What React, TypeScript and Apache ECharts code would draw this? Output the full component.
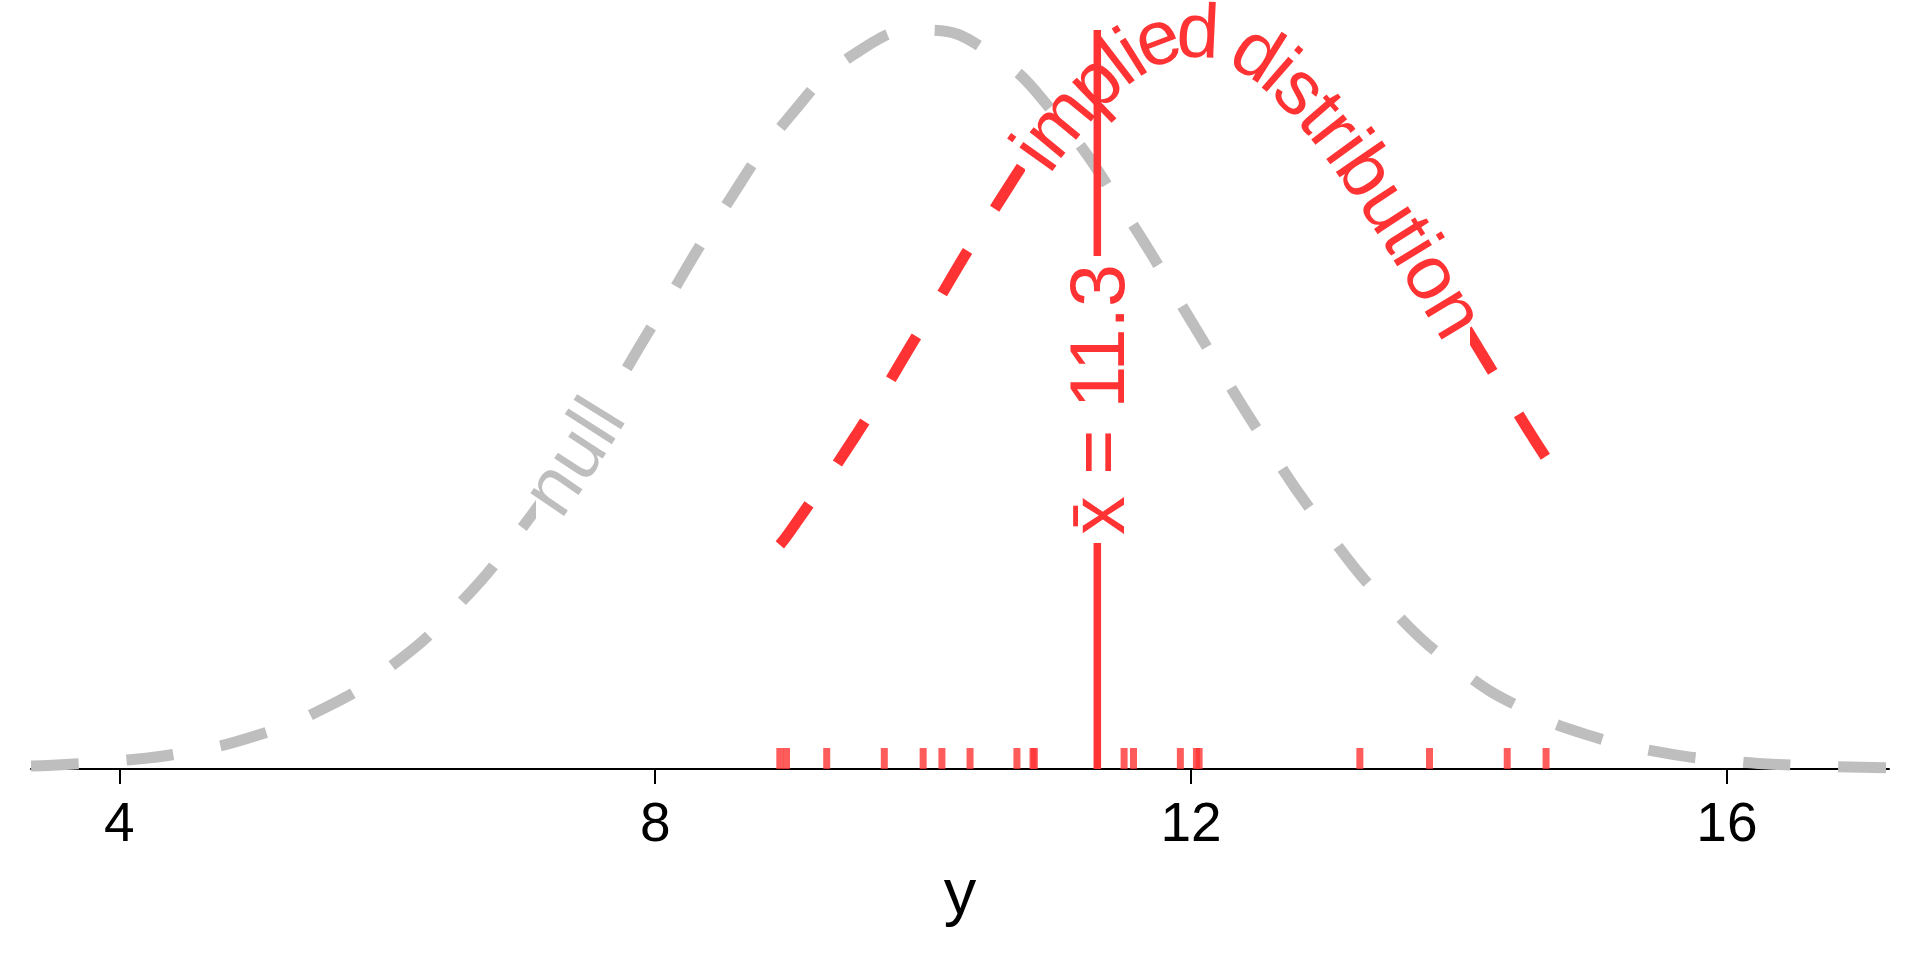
import React, { useEffect, useRef } from "react";
import * as echarts from "echarts";

// ---- data ----
const nullX = [3.34, 3.5, 4, 4.5, 5, 5.5, 6, 6.5, 7, 7.5, 8, 8.5, 9, 9.5, 10, 10.5, 11, 11.5, 12, 12.5, 13, 13.5, 14, 14.5, 15, 15.5, 16, 16.5, 17, 17.21];
const nullDensity = [0.00078, 0.00101, 0.00222, 0.00455, 0.00876, 0.0159, 0.027, 0.0431, 0.0648, 0.0913, 0.121, 0.1506, 0.176, 0.1933, 0.1995, 0.1933, 0.176, 0.1506, 0.121, 0.0913, 0.0648, 0.0431, 0.027, 0.0159, 0.00876, 0.00455, 0.00222, 0.00101, 0.00044, 0.0003];
const impliedX = [8.93, 9, 9.5, 10, 10.5, 11, 11.5, 12, 12.5, 13, 13.5, 14, 14.5, 14.65];
const impliedDensity = [0.0605, 0.0638, 0.0902, 0.1198, 0.1494, 0.1751, 0.1928, 0.1995, 0.1938, 0.1769, 0.1517, 0.1222, 0.0925, 0.084];
const rugValues = [8.93, 8.98, 9.28, 9.71, 10.0, 10.14, 10.35, 10.7, 10.82, 10.83, 11.5, 11.57, 11.92, 12.04, 12.06, 13.26, 13.78, 14.36, 14.65];
const xBar = 11.3;
const peakDensity = 0.1995;
const tickValues = [4, 8, 12, 16];
const xMin = 3.34;
const xMax = 17.21;
const xAxisName = "y";
const xBarLabel = "x\u0304 = 11.3";
const nullLabel = "null";
const impliedLabel = "implied distribution";
const nullLabelCenterX = 7.38;
const impliedLabelStartX = 10.78;

// ---- styles ----
const RED = "#FF3333";
const GRAY = "#BEBEBE";
const FONT = '"Liberation Sans", Arial, Helvetica, sans-serif';
const LABEL_SIZE = 77;
const DASH_PERIOD = 96;

function catmull(p0: number[], p1: number[], p2: number[], p3: number[], t: number) {
  const t2 = t * t, t3 = t2 * t;
  const f = (a: number, b: number, c: number, d: number) =>
    0.5 * (2 * b + (-a + c) * t + (2 * a - 5 * b + 4 * c - d) * t2 + (-a + 3 * b - 3 * c + d) * t3);
  return [f(p0[0], p1[0], p2[0], p3[0]), f(p0[1], p1[1], p2[1], p3[1])];
}

function measurer(size: number) {
  const ctx = document.createElement("canvas").getContext("2d")!;
  ctx.font = `${size}px "Liberation Sans", Arial, sans-serif`;
  return (s: string) => ctx.measureText(s).width;
}

// text set letter by letter along a curve, centred on it
function curveText(
  chart: any, xs: number[], ys: number[], text: string, size: number, color: string,
  anchorX: number, mode: "start" | "center", pad: number
) {
  const toPx = (p: number[]) => chart.convertToPixel({ gridIndex: 0 }, p) as number[];
  const pts = xs.map((x, i) => toPx([x, ys[i]]));
  const dense: number[][] = [];
  const N = 40;
  for (let i = 0; i < pts.length - 1; i++) {
    const p0 = pts[Math.max(0, i - 1)], p1 = pts[i], p2 = pts[i + 1], p3 = pts[Math.min(pts.length - 1, i + 2)];
    for (let k = 0; k < N; k++) dense.push(catmull(p0, p1, p2, p3, k / N));
  }
  dense.push(pts[pts.length - 1]);
  const n = dense.length;
  const arc = [0];
  for (let i = 1; i < n; i++)
    arc.push(arc[i - 1] + Math.hypot(dense[i][0] - dense[i - 1][0], dense[i][1] - dense[i - 1][1]));
  const total = arc[n - 1];
  const pointAt = (s: number) => {
    const ss = Math.max(0, Math.min(total, s));
    let i = 0;
    while (i < n - 2 && arc[i + 1] < ss) i++;
    const seg = arc[i + 1] - arc[i] || 1;
    const t = (ss - arc[i]) / seg;
    return [dense[i][0] + (dense[i + 1][0] - dense[i][0]) * t, dense[i][1] + (dense[i + 1][1] - dense[i][1]) * t];
  };
  const arcAtPx = (px: number) => {
    for (let i = 0; i < n - 1; i++) {
      if (dense[i][0] <= px && dense[i + 1][0] >= px) {
        const t = (px - dense[i][0]) / (dense[i + 1][0] - dense[i][0] || 1);
        return arc[i] + (arc[i + 1] - arc[i]) * t;
      }
    }
    return 0;
  };
  const measure = measurer(size);
  const chars = Array.from(text);
  const widths = chars.map((c) => measure(c));
  const textLen = widths.reduce((a, b) => a + b, 0);
  const anchorArc = arcAtPx(toPx([anchorX, 0])[0]);
  const start = mode === "start" ? anchorArc : anchorArc - textLen / 2;
  const elements: any[] = [];
  let acc = start;
  chars.forEach((c, i) => {
    const w = widths[i];
    const sc = acc + w / 2;
    const p = pointAt(sc);
    const a = pointAt(sc - Math.max(w, 8) / 2);
    const b = pointAt(sc + Math.max(w, 8) / 2);
    const rot = Math.atan2(-(b[1] - a[1]), b[0] - a[0]);
    if (c.trim()) {
      elements.push({
        type: "text", x: p[0], y: p[1], rotation: rot, z: 100,
        style: { text: c, fill: color, fontSize: size, fontFamily: FONT, align: "center", verticalAlign: "middle" },
      });
    }
    acc += w;
  });
  const gapA = chart.convertFromPixel({ gridIndex: 0 }, pointAt(start - pad))[0];
  const gapB = chart.convertFromPixel({ gridIndex: 0 }, pointAt(start + textLen + pad))[0];
  // dash length so that the dashed line starts and ends with a dash
  const k = Math.max(1, Math.round(total / DASH_PERIOD - 0.5));
  const dash = total / (k + 0.5) / 2;
  return { elements, gap: [gapA, gapB], dash };
}

export default function App() {
  const ref = useRef<HTMLDivElement>(null);
  useEffect(() => {
    const chart = echarts.init(ref.current!, null, { renderer: "svg" });
    chart.setOption({
      animation: false,
      backgroundColor: "#ffffff",
      grid: { left: 31, right: 31, top: 30, bottom: 191 },
      xAxis: {
        type: "value", min: xMin, max: xMax,
        name: xAxisName, nameLocation: "middle", nameGap: 90,
        nameTextStyle: { fontSize: 65, color: "#000", fontFamily: FONT },
        axisLine: { show: true, onZero: false, lineStyle: { color: "#000", width: 2 } },
        axisTick: { show: true, length: 15, lineStyle: { color: "#000", width: 2 }, customValues: tickValues },
        axisLabel: { fontSize: 55, color: "#000", fontFamily: FONT, margin: 25, customValues: tickValues },
        splitLine: { show: false },
      },
      yAxis: { type: "value", min: 0, max: peakDensity, show: false },
      series: [
        {
          name: "null", type: "line", data: nullX.map((x, i) => [x, nullDensity[i]]),
          smooth: true, showSymbol: false, clip: false, z: 2,
          lineStyle: { width: 11, type: [48, 48], cap: "butt" },
        },
        {
          name: "implied", type: "line", data: impliedX.map((x, i) => [x, impliedDensity[i]]),
          smooth: true, showSymbol: false, clip: false, z: 3,
          lineStyle: { width: 11, type: [48, 48], cap: "butt" },
        },
        {
          name: "xbar", type: "line", data: [[xBar, 0], [xBar, peakDensity]],
          showSymbol: false, clip: false, z: 4,
          lineStyle: { width: 7.5, cap: "butt" },
        },
        {
          name: "rug", type: "scatter", data: rugValues.map((v) => [v, 0]),
          symbol: "rect", symbolSize: [7, 21], symbolOffset: [0, -10.5], z: 5,
          itemStyle: { color: RED, opacity: 0.8 },
        },
      ],
    });

    const nl = curveText(chart, nullX, nullDensity, nullLabel, LABEL_SIZE, GRAY, nullLabelCenterX, "center", 5);
    const il = curveText(chart, impliedX, impliedDensity, impliedLabel, LABEL_SIZE, RED, impliedLabelStartX, "start", 5);

    const mid = chart.convertToPixel({ gridIndex: 0 }, [xBar, peakDensity / 2]) as number[];
    const wBar = measurer(LABEL_SIZE)(xBarLabel);
    const yLow = (chart.convertFromPixel({ gridIndex: 0 }, [mid[0], mid[1] + wBar / 2 + 8]) as number[])[1];
    const yHigh = (chart.convertFromPixel({ gridIndex: 0 }, [mid[0], mid[1] - wBar / 2 - 8]) as number[])[1];

    const hidden = "rgba(255,255,255,0)";
    chart.setOption({
      series: [
        { lineStyle: { width: 11, type: [nl.dash, nl.dash], cap: "butt" } },
        { lineStyle: { width: 11, type: [il.dash, il.dash], cap: "butt" } },
        {},
        {},
      ],
      visualMap: [
        {
          type: "piecewise", show: false, seriesIndex: 0, dimension: 0,
          pieces: [{ lt: nl.gap[0], color: GRAY }, { gte: nl.gap[0], lte: nl.gap[1], color: hidden }, { gt: nl.gap[1], color: GRAY }],
        },
        {
          type: "piecewise", show: false, seriesIndex: 1, dimension: 0,
          pieces: [{ lt: il.gap[0], color: RED }, { gte: il.gap[0], lte: il.gap[1], color: hidden }, { gt: il.gap[1], color: RED }],
        },
        {
          type: "piecewise", show: false, seriesIndex: 2, dimension: 1,
          pieces: [{ lt: yLow, color: RED }, { gte: yLow, lte: yHigh, color: hidden }, { gt: yHigh, color: RED }],
        },
      ],
      graphic: [
        ...nl.elements,
        ...il.elements,
        {
          type: "text", x: mid[0], y: mid[1], rotation: Math.PI / 2, z: 100,
          style: { text: xBarLabel, fill: RED, fontSize: LABEL_SIZE, fontFamily: FONT, align: "center", verticalAlign: "middle" },
        },
      ],
    });
    return () => chart.dispose();
  }, []);
  return <div ref={ref} style={{ position: "fixed", left: 0, top: 0, width: 1920, height: 960 }} />;
}
